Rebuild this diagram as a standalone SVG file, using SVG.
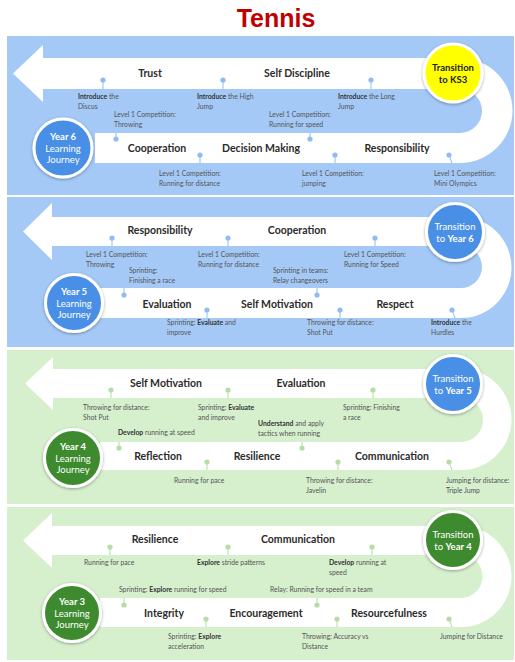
<svg xmlns="http://www.w3.org/2000/svg" width="515" height="662" viewBox="0 0 515 662">
<defs>
<filter id="sh" x="-30%" y="-30%" width="160%" height="160%">
<feDropShadow dx="0" dy="1" stdDeviation="1.5" flood-color="#000" flood-opacity="0.35"/>
</filter>
</defs>
<style>
.title{font-family:"Liberation Sans",Arial,sans-serif;font-weight:bold;font-size:25px;fill:#c00000}
.pb{fill:#a4c9f6}
.pg{fill:#d6efcd}
.band{fill:#ffffff}
.lbl{font-family:Lato,"Open Sans",sans-serif;font-weight:bold;font-size:10.5px;fill:#2b2b2b;text-anchor:middle}
.sm{font-family:Lato,"Open Sans",sans-serif;font-size:6.8px;fill:#555555}
.sm tspan.b{font-weight:bold;fill:#333333}
.ring{stroke:#ffffff;stroke-width:3;filter:url(#sh)}
.cb{fill:#4a8fe6}
.cg{fill:#3d8b2e}
.cy{fill:#ffff00}
.ct{font-family:Lato,"Open Sans",sans-serif;font-size:9.5px;fill:#ffffff;text-anchor:middle}
.ct .b{font-weight:bold}
.cyt{font-family:Lato,"Open Sans",sans-serif;font-size:9.5px;fill:#222222;text-anchor:middle;font-weight:bold}
.db{fill:#8fbdf1;stroke:none}
.dg{fill:#b4dea4;stroke:none}
.lb{stroke:#8fbdf1;stroke-width:1}
.lg{stroke:#b4dea4;stroke-width:1}
</style>
<rect width="515" height="662" fill="#ffffff"/>
<text class="title" x="276" y="27" text-anchor="middle">Tennis</text>

<!-- Panel backgrounds -->
<rect class="pb" x="7" y="36" width="507" height="159"/>
<rect class="pb" x="7" y="197" width="507" height="150"/>
<rect class="pg" x="7" y="350" width="507" height="154"/>
<rect class="pg" x="7" y="507" width="507" height="153"/>

<!-- Bands -->
<g id="bands">
<path class="band" d="M460,58 L43,58 L43,45 L13,73.5 L43,102 L43,89 L460,89 A22,22 0 0 1 460,133 L95,133 L95,163 L460,163 A52.5,52.5 0 0 0 460,58 Z"/>
<path class="band" d="M461,217 L52,217 L52,203 L23,231.5 L52,260 L52,246 L461,246 A21,21 0 0 1 461,288 L100,288 L100,318 L461,318 A50.5,50.5 0 0 0 461,217 Z"/>
<path class="band" d="M461,369 L53,369 L53,357 L25,383.5 L53,410 L53,398 L461,398 A22,22 0 0 1 461,442 L100,442 L100,470 L461,470 A50.5,50.5 0 0 0 461,369 Z"/>
<path class="band" d="M461,526 L52,526 L52,513 L23,540.5 L52,568 L52,555 L461,555 A21.5,21.5 0 0 1 461,598 L100,598 L100,627 L461,627 A50.5,50.5 0 0 0 461,526 Z"/>
</g>

<!-- Connectors (dot stems) -->
<g id="connectors">
<g class="lb">
<line x1="103" y1="80" x2="103" y2="89"/><line x1="223" y1="80" x2="223" y2="89"/><line x1="371" y1="80" x2="371" y2="89"/>
<line x1="116" y1="139" x2="116" y2="133"/><line x1="310" y1="139" x2="310" y2="133"/>
<line x1="200" y1="155" x2="200" y2="163"/><line x1="335" y1="155" x2="335" y2="163"/><line x1="449" y1="155" x2="452" y2="163"/>
<line x1="112" y1="238" x2="112" y2="246"/><line x1="228" y1="238" x2="228" y2="246"/><line x1="375" y1="238" x2="375" y2="246"/>
<line x1="124" y1="295" x2="124" y2="288"/><line x1="317" y1="295" x2="317" y2="288"/>
<line x1="207" y1="310" x2="207" y2="318"/><line x1="340" y1="310" x2="340" y2="318"/><line x1="452" y1="310" x2="455" y2="318"/>
</g>
<g class="lg">
<line x1="111" y1="390" x2="111" y2="398"/><line x1="228" y1="390" x2="228" y2="398"/><line x1="373" y1="390" x2="373" y2="398"/>
<line x1="119" y1="448" x2="119" y2="442"/><line x1="302" y1="448" x2="302" y2="442"/>
<line x1="207" y1="462" x2="207" y2="470"/><line x1="338" y1="462" x2="338" y2="470"/><line x1="449" y1="462" x2="452" y2="470"/>
<line x1="110" y1="547" x2="110" y2="555"/><line x1="228" y1="547" x2="228" y2="555"/><line x1="372" y1="547" x2="372" y2="555"/>
<line x1="124" y1="605" x2="124" y2="598"/><line x1="317" y1="605" x2="317" y2="598"/>
<line x1="206" y1="619" x2="206" y2="627"/><line x1="337" y1="619" x2="337" y2="627"/><line x1="449" y1="619" x2="452" y2="627"/>
</g>
</g>

<!-- Dots -->
<g id="dots">
<g class="db">
<circle cx="103" cy="80" r="2.6"/><circle cx="223" cy="80" r="2.6"/><circle cx="371" cy="80" r="2.6"/>
<circle cx="116" cy="139" r="2.6"/><circle cx="310" cy="139" r="2.6"/>
<circle cx="200" cy="155" r="2.6"/><circle cx="335" cy="155" r="2.6"/><circle cx="449" cy="155" r="2.6"/>
<circle cx="112" cy="238" r="2.6"/><circle cx="228" cy="238" r="2.6"/><circle cx="375" cy="238" r="2.6"/>
<circle cx="124" cy="295" r="2.6"/><circle cx="317" cy="295" r="2.6"/>
<circle cx="207" cy="310" r="2.6"/><circle cx="340" cy="310" r="2.6"/><circle cx="452" cy="310" r="2.6"/>
</g>
<g class="dg">
<circle cx="111" cy="390" r="2.6"/><circle cx="228" cy="390" r="2.6"/><circle cx="373" cy="390" r="2.6"/>
<circle cx="119" cy="448" r="2.6"/><circle cx="302" cy="448" r="2.6"/>
<circle cx="207" cy="462" r="2.6"/><circle cx="338" cy="462" r="2.6"/><circle cx="449" cy="462" r="2.6"/>
<circle cx="110" cy="547" r="2.6"/><circle cx="228" cy="547" r="2.6"/><circle cx="372" cy="547" r="2.6"/>
<circle cx="124" cy="605" r="2.6"/><circle cx="317" cy="605" r="2.6"/>
<circle cx="206" cy="619" r="2.6"/><circle cx="337" cy="619" r="2.6"/><circle cx="449" cy="619" r="2.6"/>
</g>
</g>

<!-- Panel 1: Year 6 -->
<g id="trust"><text class="lbl" x="150" y="77">Trust</text></g>
<g id="self-discipline"><text class="lbl" x="297" y="77">Self Discipline</text></g>
<g id="cooperation-y6"><text class="lbl" x="157" y="152">Cooperation</text></g>
<g id="decision-making"><text class="lbl" x="261" y="152">Decision Making</text></g>
<g id="responsibility-y6"><text class="lbl" x="397" y="152">Responsibility</text></g>
<g id="y6-notes">
<text class="sm" x="78" y="99"><tspan class="b">Introduce</tspan> the<tspan x="78" dy="9.5">Discus</tspan></text>
<text class="sm" x="114" y="117">Level 1 Competition:<tspan x="114" dy="9.5">Throwing</tspan></text>
<text class="sm" x="197" y="99"><tspan class="b">Introduce</tspan> the High<tspan x="197" dy="9.5">Jump</tspan></text>
<text class="sm" x="269" y="117">Level 1 Competition:<tspan x="269" dy="9.5">Running for speed</tspan></text>
<text class="sm" x="338" y="99"><tspan class="b">Introduce</tspan> the Long<tspan x="338" dy="9.5">Jump</tspan></text>
<text class="sm" x="159" y="176">Level 1 Competition:<tspan x="159" dy="9.5">Running for distance</tspan></text>
<text class="sm" x="302" y="176">Level 1 Competition:<tspan x="302" dy="9.5">jumping</tspan></text>
<text class="sm" x="434" y="176">Level 1 Competition:<tspan x="434" dy="9.5">Mini Olympics</tspan></text>
</g>
<g id="transition-ks3">
<circle class="ring cy" cx="453" cy="73" r="29"/>
<text class="cyt" x="453" y="71">Transition</text>
<text class="cyt" x="453" y="83">to KS3</text>
</g>
<g id="year6">
<circle class="ring cb" cx="63" cy="148" r="29"/>
<text class="ct" x="63" y="140"><tspan class="b">Year 6</tspan></text>
<text class="ct" x="63" y="152">Learning</text>
<text class="ct" x="63" y="163">Journey</text>
</g>

<!-- Panel 2: Year 5 -->
<g id="responsibility-y5"><text class="lbl" x="160" y="234">Responsibility</text></g>
<g id="cooperation-y5"><text class="lbl" x="297" y="234">Cooperation</text></g>
<g id="evaluation-y5"><text class="lbl" x="167" y="308">Evaluation</text></g>
<g id="self-motivation-y5"><text class="lbl" x="277" y="308">Self Motivation</text></g>
<g id="respect"><text class="lbl" x="395" y="308">Respect</text></g>
<g id="y5-notes">
<text class="sm" x="86" y="257">Level 1 Competition:<tspan x="86" dy="9.5">Throwing</tspan></text>
<text class="sm" x="129" y="273">Sprinting:<tspan x="129" dy="9.5">Finishing a race</tspan></text>
<text class="sm" x="198" y="257">Level 1 Competition:<tspan x="198" dy="9.5">Running for distance</tspan></text>
<text class="sm" x="273" y="273">Sprinting in teams:<tspan x="273" dy="9.5">Relay changeovers</tspan></text>
<text class="sm" x="344" y="257">Level 1 Competition:<tspan x="344" dy="9.5">Running for Speed</tspan></text>
<text class="sm" x="167" y="325">Sprinting: <tspan class="b">Evaluate</tspan> and<tspan x="167" dy="9.5">improve</tspan></text>
<text class="sm" x="307" y="325">Throwing for distance:<tspan x="307" dy="9.5">Shot Put</tspan></text>
<text class="sm" x="431" y="325"><tspan class="b">Introduce</tspan> the<tspan x="431" dy="9.5">Hurdles</tspan></text>
</g>
<g id="transition-y6">
<circle class="ring cb" cx="455" cy="232" r="28.5"/>
<text class="ct" x="455" y="230">Transition</text>
<text class="ct" x="455" y="242">to <tspan class="b">Year 6</tspan></text>
</g>
<g id="year5">
<circle class="ring cb" cx="74" cy="303" r="28.5"/>
<text class="ct" x="74" y="295"><tspan class="b">Year 5</tspan></text>
<text class="ct" x="74" y="307">Learning</text>
<text class="ct" x="74" y="318">Journey</text>
</g>

<!-- Panel 3: Year 4 -->
<g id="self-motivation-y4"><text class="lbl" x="166" y="387">Self Motivation</text></g>
<g id="evaluation-y4"><text class="lbl" x="301" y="387">Evaluation</text></g>
<g id="reflection"><text class="lbl" x="158" y="460">Reflection</text></g>
<g id="resilience-y4"><text class="lbl" x="257" y="460">Resilience</text></g>
<g id="communication-y4"><text class="lbl" x="392" y="460">Communication</text></g>
<g id="y4-notes">
<text class="sm" x="83" y="410">Throwing for distance:<tspan x="83" dy="9.5">Shot Put</tspan></text>
<text class="sm" x="198" y="410">Sprinting: <tspan class="b">Evaluate</tspan><tspan x="198" dy="9.5">and improve</tspan></text>
<text class="sm" x="118" y="435"><tspan class="b">Develop</tspan> running at speed</text>
<text class="sm" x="258" y="426"><tspan class="b">Understand</tspan> and apply<tspan x="258" dy="9.5">tactics when running</tspan></text>
<text class="sm" x="343" y="410">Sprinting: Finishing<tspan x="343" dy="9.5">a race</tspan></text>
<text class="sm" x="174" y="483">Running for pace</text>
<text class="sm" x="306" y="483">Throwing for distance:<tspan x="306" dy="9.5">Javelin</tspan></text>
<text class="sm" x="446" y="483">Jumping for distance:<tspan x="446" dy="9.5">Triple Jump</tspan></text>
</g>
<g id="transition-y5">
<circle class="ring cb" cx="453" cy="384" r="28.5"/>
<text class="ct" x="453" y="382">Transition</text>
<text class="ct" x="453" y="394">to <tspan class="b">Year 5</tspan></text>
</g>
<g id="year4">
<circle class="ring cg" cx="73" cy="458" r="28.5"/>
<text class="ct" x="73" y="450"><tspan class="b">Year 4</tspan></text>
<text class="ct" x="73" y="462">Learning</text>
<text class="ct" x="73" y="473">Journey</text>
</g>

<!-- Panel 4: Year 3 -->
<g id="resilience-y3"><text class="lbl" x="155" y="543">Resilience</text></g>
<g id="communication-y3"><text class="lbl" x="298" y="543">Communication</text></g>
<g id="integrity"><text class="lbl" x="164" y="617">Integrity</text></g>
<g id="encouragement"><text class="lbl" x="266" y="617">Encouragement</text></g>
<g id="resourcefulness"><text class="lbl" x="389" y="617">Resourcefulness</text></g>
<g id="y3-notes">
<text class="sm" x="84" y="565">Running for pace</text>
<text class="sm" x="197" y="565"><tspan class="b">Explore</tspan> stride patterns</text>
<text class="sm" x="329" y="565"><tspan class="b">Develop</tspan> running at<tspan x="329" dy="9.5">speed</tspan></text>
<text class="sm" x="119" y="592">Sprinting: <tspan class="b">Explore</tspan> running for speed</text>
<text class="sm" x="270" y="592">Relay: Running for speed in a team</text>
<text class="sm" x="168" y="639">Sprinting: <tspan class="b">Explore</tspan><tspan x="168" dy="9.5">acceleration</tspan></text>
<text class="sm" x="302" y="639">Throwing: Accuracy vs<tspan x="302" dy="9.5">Distance</tspan></text>
<text class="sm" x="440" y="639">Jumping for Distance</text>
</g>
<g id="transition-y4">
<circle class="ring cg" cx="453" cy="540" r="28.5"/>
<text class="ct" x="453" y="538">Transition</text>
<text class="ct" x="453" y="550">to <tspan class="b">Year 4</tspan></text>
</g>
<g id="year3">
<circle class="ring cg" cx="72" cy="613" r="28.5"/>
<text class="ct" x="72" y="605"><tspan class="b">Year 3</tspan></text>
<text class="ct" x="72" y="617">Learning</text>
<text class="ct" x="72" y="628">Journey</text>
</g>
</svg>
